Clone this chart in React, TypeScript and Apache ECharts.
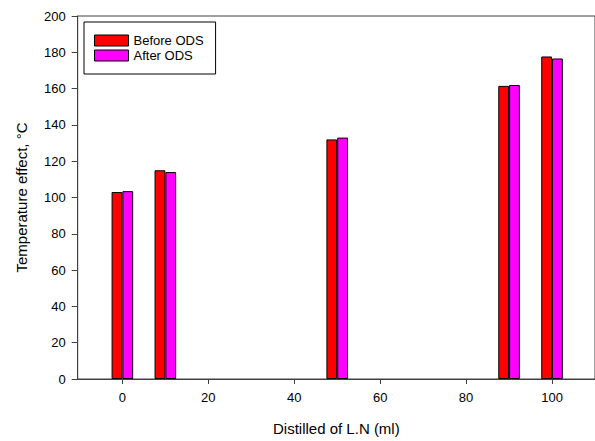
import React, { useEffect, useRef } from "react";
import * as echarts from "echarts";

const xValues = [0, 10, 50, 90, 100];
const beforeODS = [103, 115, 132, 161.5, 177.7];
const afterODS = [103.5, 114, 133, 162, 176.6];
const xTicks = [0, 20, 40, 60, 80, 100];
const seriesNames = ["Before ODS", "After ODS"];

export default function App() {
  const ref = useRef<HTMLDivElement>(null);
  useEffect(() => {
    document.body.style.margin = "0";
    if (!ref.current) return;
    const chart = echarts.init(ref.current, null, { renderer: "svg" });
    const axisColor = "#404040";
    const font = "Liberation Sans, Arial, sans-serif";
    chart.setOption({
      animation: false,
      backgroundColor: "#ffffff",
      grid: {
        left: 77.7,
        top: 16,
        bottom: 61,
        right: -2.7,
        show: true,
        borderColor: axisColor,
        borderWidth: 1,
      },
      legend: {
        left: 84,
        top: 22,
        orient: "vertical",
        data: seriesNames,
        icon: "rect",
        itemWidth: 34,
        itemHeight: 11,
        itemGap: 2,
        itemTextGap: 9,
        itemStyle: { borderColor: "#000", borderWidth: 1 },
        borderColor: "#000",
        borderWidth: 1,
        padding: [12, 12, 12, 10],
        textStyle: { fontSize: 13, color: "#000", fontFamily: font, lineHeight: 13 },
      },
      xAxis: {
        type: "value",
        min: -10.4,
        max: 110,
        name: "Distilled of L.N (ml)",
        nameLocation: "middle",
        nameGap: 42,
        nameTextStyle: { fontSize: 15, color: "#000", fontFamily: font },
        axisLine: { onZero: false, lineStyle: { color: axisColor, width: 1 } },
        axisTick: { show: true, length: 5, customValues: xTicks, lineStyle: { color: axisColor } },
        axisLabel: { customValues: xTicks, fontSize: 13, color: "#000", fontFamily: font, margin: 12 },
        splitLine: { show: false },
      },
      yAxis: {
        type: "value",
        min: 0,
        max: 200,
        interval: 20,
        name: "Temperature effect, °C",
        nameLocation: "middle",
        nameGap: 49,
        nameTextStyle: { fontSize: 15, color: "#000", fontFamily: font },
        axisLine: { show: true, onZero: false, lineStyle: { color: axisColor, width: 1 } },
        axisTick: { show: true, length: 6, lineStyle: { color: axisColor } },
        axisLabel: { fontSize: 13, color: "#000", fontFamily: font, margin: 12 },
        splitLine: { show: false },
      },
      series: [
        {
          name: seriesNames[0],
          type: "bar",
          data: xValues.map((x, i) => [x, beforeODS[i]]),
          barWidth: 10.8,
          barGap: "0%",
          itemStyle: { color: "#ff0000", borderColor: "#000", borderWidth: 1 },
        },
        {
          name: seriesNames[1],
          type: "bar",
          data: xValues.map((x, i) => [x, afterODS[i]]),
          barWidth: 10.8,
          barGap: "0%",
          itemStyle: { color: "#ff00ff", borderColor: "#000", borderWidth: 1 },
        },
      ],
    });
    return () => chart.dispose();
  }, []);
  return <div ref={ref} style={{ width: 595, height: 441 }} />;
}
